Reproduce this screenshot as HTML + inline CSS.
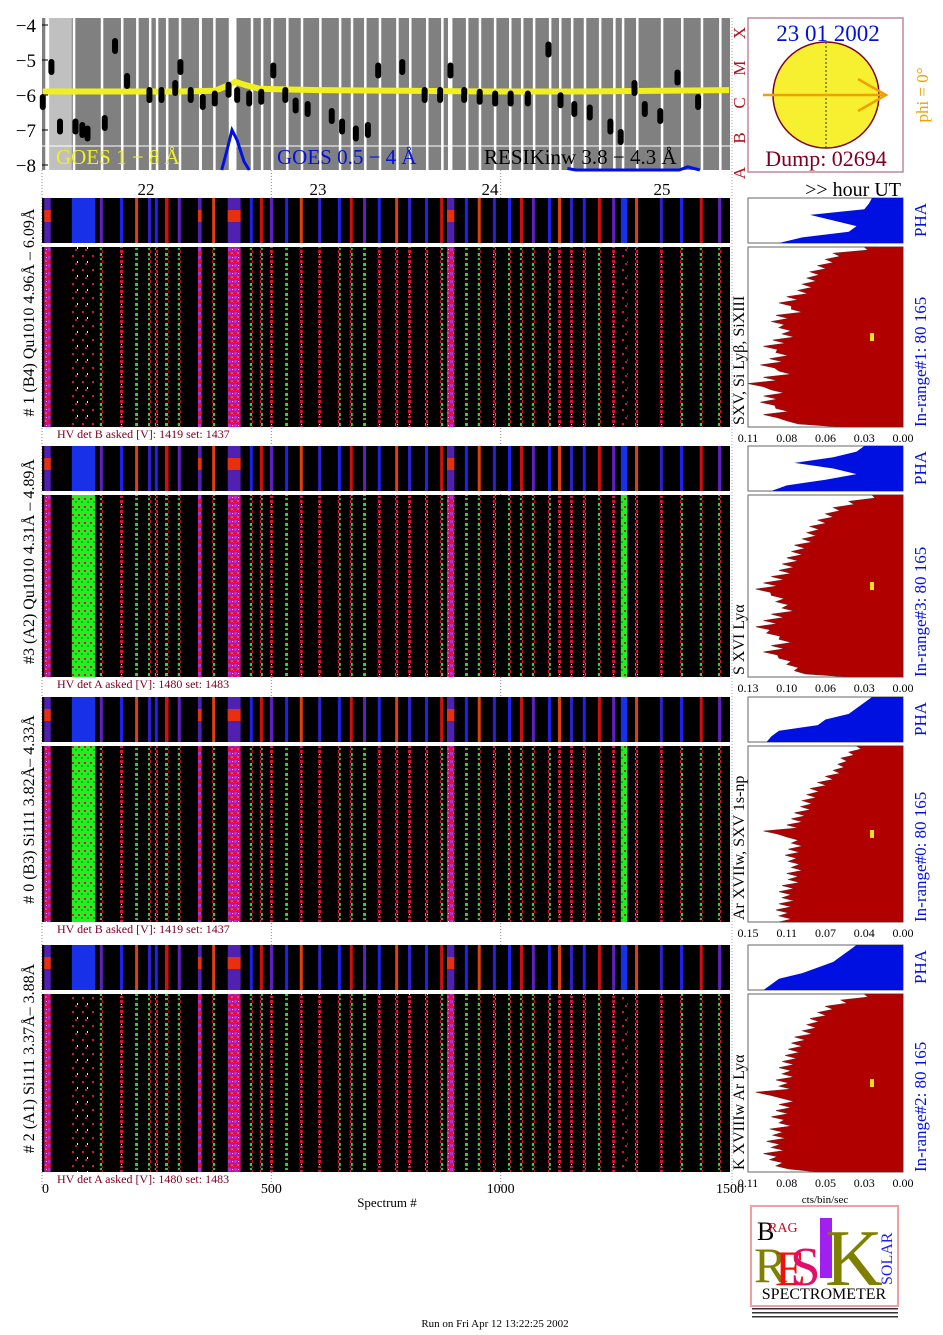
<!DOCTYPE html>
<html><head><meta charset="utf-8">
<style>
html,body{margin:0;padding:0;background:#fff;}
body{width:943px;height:1330px;overflow:hidden;font-family:"Liberation Serif",serif;}
svg text{font-family:"Liberation Serif",serif;}
</style></head>
<body>
<svg id="chart" width="943" height="1330" viewBox="0 0 943 1330" xmlns="http://www.w3.org/2000/svg">
<defs>
<pattern id="spk" width="6" height="10" patternUnits="userSpaceOnUse">
<rect width="6" height="10" fill="#1a0a0a"/>
<rect x="0" y="0" width="3" height="3" fill="#e01030"/>
<rect x="3" y="3" width="3" height="3" fill="#20e020"/>
<rect x="0" y="6" width="3" height="2" fill="#d02050"/>
<rect x="3" y="8" width="3" height="2" fill="#30c030"/>
<rect x="1" y="4" width="1" height="1" fill="#fff"/>
</pattern>
<pattern id="spkf" width="6" height="8" patternUnits="userSpaceOnUse">
<rect width="6" height="8" fill="#e01040"/>
<rect x="0" y="0" width="3" height="3" fill="#b030e0"/>
<rect x="3" y="4" width="2" height="2" fill="#c040f0"/>
<rect x="4" y="1" width="1" height="1" fill="#fff"/>
</pattern>
<pattern id="spkg" width="6" height="8" patternUnits="userSpaceOnUse">
<rect width="6" height="8" fill="#20f020"/>
<rect x="0" y="2" width="2" height="2" fill="#e01030"/>
<rect x="3" y="5" width="2" height="2" fill="#10b010"/>
</pattern>
<pattern id="spkd" width="10" height="14" patternUnits="userSpaceOnUse">
<rect width="10" height="14" fill="#000"/>
<rect x="2" y="3" width="2" height="2" fill="#e01030"/>
<rect x="7" y="9" width="1" height="2" fill="#fff"/>
<rect x="5" y="11" width="2" height="2" fill="#c01040"/>
</pattern>
</defs>
<g id="topPanel"></g>
<g id="panels"></g>
<g id="hists"></g>
<g id="misc"></g>
</svg>
<script>
const NS="http://www.w3.org/2000/svg";
function mk(parent,tag,attrs,txt){const e=document.createElementNS(NS,tag);for(const k in attrs)e.setAttribute(k,attrs[k]);if(txt!==undefined)e.textContent=txt;parent.appendChild(e);return e;}

// ---------- data ----------
const goesLongHours=[21.40,21.8,22.2,22.40,22.48,22.52,22.58,22.66,22.8,23.0,23.5,24.0,24.5,25.0,25.39];
const goesLongVals=[-5.9,-5.9,-5.9,-5.88,-5.72,-5.62,-5.72,-5.82,-5.84,-5.86,-5.88,-5.9,-5.9,-5.88,-5.86];
const goesShortHours=[22.44,22.47,22.50,22.53,22.57,22.60];
const goesShortVals=[-8.4,-7.6,-7.0,-7.3,-7.9,-8.4];
const goesShort2Hours=[24.45,24.50,25.10,25.15,25.22];
const goesShort2Vals=[-8.1,-8.2,-8.2,-8.05,-8.2];
const resikHours=[21.40,21.45,21.50,21.59,21.63,21.66,21.76,21.82,21.89,22.02,22.09,22.17,22.20,22.26,22.33,22.40,22.48,22.53,22.60,22.67,22.74,22.81,22.87,22.94,23.08,23.14,23.22,23.29,23.35,23.49,23.62,23.71,23.77,23.85,23.94,24.03,24.12,24.22,24.34,24.41,24.49,24.58,24.70,24.76,24.84,24.90,24.99,25.09,25.21];
const resikVals=[-6.2,-5.2,-6.9,-6.9,-7.0,-7.1,-6.8,-4.6,-5.6,-6.0,-6.0,-5.8,-5.2,-6.0,-6.2,-6.1,-5.85,-6.0,-6.1,-6.05,-5.3,-6.0,-6.3,-6.4,-6.6,-6.9,-7.1,-7.0,-5.3,-5.2,-6.0,-6.0,-5.3,-6.0,-6.05,-6.1,-6.1,-6.1,-4.7,-6.15,-6.4,-6.5,-6.9,-7.2,-5.8,-6.4,-6.6,-5.5,-6.2];
const yTicks=[-4,-5,-6,-7,-8];
const hourTicks=[22,23,24,25];
const specTicks=[0,500,1000,1500];
const stripeStart=[5,65,126,170,203,231,246,268,296,340,371,405,453,475,497,530,562,602,645,671,700,732,770,798,835,868,883,922,950,983,1016,1042,1068,1103,1125,1151,1179,1212,1243,1262,1293,1347,1391,1434,1474];
const stripeWidth=[14,51,6,6,6,6,6,8,6,8,6,28,6,6,6,6,6,6,6,6,6,6,6,6,6,6,16,6,6,6,6,6,6,6,6,6,6,6,6,14,6,6,6,6,6];
const stripeKind=["f","g","s","s","s","s","s","s","s","f","s","f","s","s","s","s","s","s","s","s","s","s","s","s","s","s","f","s","s","s","s","s","s","s","s","s","s","s","s","g","s","s","s","s","s"];
const histP1=[0.25,0.45,0.5,0.55,0.6,0.62,0.65,0.68,0.75,0.8,0.72,0.82,0.85,0.8,0.78,0.84,0.9,0.82,0.86,0.92,0.8,0.9,1.0,0.85,0.9,0.92,0.82,0.9,0.75,0.4];
const histP2=[0.2,0.35,0.45,0.5,0.55,0.6,0.62,0.65,0.7,0.72,0.75,0.78,0.8,0.85,0.9,0.95,0.85,0.82,0.78,0.85,0.9,0.95,0.88,0.8,0.85,0.9,0.8,0.75,0.7,0.35];
const histP3=[0.3,0.35,0.4,0.42,0.45,0.5,0.55,0.6,0.62,0.65,0.66,0.7,0.72,0.75,0.9,0.75,0.72,0.74,0.76,0.74,0.72,0.75,0.74,0.78,0.8,0.78,0.8,0.82,0.8,0.8];
const histP4=[0.25,0.4,0.5,0.55,0.6,0.62,0.65,0.7,0.72,0.74,0.76,0.78,0.8,0.78,0.82,0.8,0.95,0.78,0.8,0.82,0.85,0.8,0.86,0.84,0.88,0.85,0.9,0.86,0.82,0.55];
const phaP1=[0.2,0.22,0.25,0.6,0.45,0.3,0.35,0.65,0.8];
const phaP2=[0.25,0.3,0.45,0.7,0.45,0.3,0.5,0.75,0.85];
const phaP3=[0.2,0.25,0.3,0.35,0.5,0.55,0.8,0.85,0.88];
const phaP4=[0.3,0.35,0.4,0.45,0.55,0.65,0.8,0.85,0.9];
const histTicks=[["0.11","0.08","0.06","0.03","0.00"],["0.13","0.10","0.06","0.03","0.00"],["0.15","0.11","0.07","0.04","0.00"],["0.11","0.08","0.05","0.03","0.00"]];

const X0=42,X1=730;
const xs=s=>X0+s/1500*(X1-X0);
const xh=h=>146+(h-22)*172;
const yv=v=>25+(-4-v)*35;

const topG=document.getElementById('topPanel');
mk(topG,'rect',{x:X0,y:18,width:X1-X0,height:152,fill:'#808080',});
mk(topG,'rect',{x:xs(15),y:18,width:xs(65)-xs(15),height:152,fill:'#c0c0c0',});
stripeStart.forEach((s,i)=>{
  const w=stripeKind[i]==='f'?Math.max(3,(xs(s+stripeWidth[i])-xs(s))*0.6):2.5;
  const r=mk(topG,'rect',{x:xs(s)+1,y:18,width:w,height:152,fill:'#fff'});
  
  
});
mk(topG,'line',{x1:X0,x2:X1,y1:146,y2:146,stroke:'#fff','stroke-width':1,});
yTicks.forEach(v=>{
  const t=mk(topG,'text',{x:36,y:yv(v)+7,'text-anchor':'end','font-size':19},(v<0?'\u2212':'')+Math.abs(v));
  
  
  mk(topG,'line',{x1:X0,x2:X0+6,y1:yv(v),y2:yv(v),stroke:'#000'});
});
function pts(hs,vs){return hs.map((h,i)=>xh(h).toFixed(1)+','+Math.min(yv(vs[i]),170).toFixed(1)).join(' ');}
const yl=mk(topG,'polyline',{points:pts(goesLongHours,goesLongVals),fill:'none',stroke:'#f0f020','stroke-width':6});


const bl=mk(topG,'polyline',{points:pts(goesShortHours,goesShortVals),fill:'none',stroke:'#0010e0','stroke-width':3});


const bl2=mk(topG,'polyline',{points:pts(goesShort2Hours,goesShort2Vals),fill:'none',stroke:'#0010e0','stroke-width':3});


resikHours.forEach((h,i)=>{
  const e=mk(topG,'rect',{x:xh(h)-3,y:yv(resikVals[i])-8,width:6,height:16,rx:3,fill:'#000'});
  
  
});
mk(topG,'text',{x:56,y:164,'font-size':21,fill:'#f0f020',},'GOES 1 \u2212 8 \u00c5');
mk(topG,'text',{x:277,y:164,'font-size':21,fill:'#0010e0',},'GOES 0.5 \u2212 4 \u00c5');
mk(topG,'text',{x:484,y:164,'font-size':21,fill:'#000',},'RESIKinw 3.8 \u2212 4.3 \u00c5');
['A','B','C','M','X'].forEach((c,i)=>{
  const t=mk(topG,'text',{transform:`translate(745,${yv(-8+i)+8}) rotate(-90)`,'font-size':17,fill:'#b01020','text-anchor':'middle'},c);
  
  
});
hourTicks.forEach(h=>{
  const t=mk(topG,'text',{x:xh(h),y:195,'font-size':17,'text-anchor':'middle'},String(h));
  
  
});
mk(topG,'text',{x:901,y:196,'font-size':20,'text-anchor':'end',},'>> hour UT');
[xs(500),xs(1000)].forEach(x=>mk(topG,'line',{x1:x,x2:x,y1:170,y2:1190,stroke:'#888','stroke-dasharray':'1,2'}));
mk(topG,'line',{x1:X0,x2:X0,y1:170,y2:1190,stroke:'#888','stroke-dasharray':'1,2'});
mk(topG,'line',{x1:732,x2:732,y1:18,y2:1190,stroke:'#aaa','stroke-dasharray':'1,2'});

const misc=document.getElementById('misc');
mk(misc,'rect',{x:748,y:18,width:155,height:154,fill:'#fff',stroke:'#c08898','stroke-width':1.5,});
mk(misc,'circle',{cx:826,cy:95,r:53,fill:'#f6f030',stroke:'#800020','stroke-width':1.5,});
mk(misc,'line',{x1:826,x2:826,y1:42,y2:148,stroke:'#333','stroke-dasharray':'2,2'});
mk(misc,'line',{x1:763,x2:886,y1:95,y2:95,stroke:'#f0a000','stroke-width':2.5,});
mk(misc,'polyline',{points:'858,79 886,95 858,111',fill:'none',stroke:'#f0a000','stroke-width':2.5});
mk(misc,'text',{x:828,y:41,'font-size':23,fill:'#0010e0','text-anchor':'middle',},'23 01 2002');
mk(misc,'text',{x:826,y:166,'font-size':22,fill:'#800020','text-anchor':'middle',},'Dump: 02694');
mk(misc,'text',{transform:'translate(928,95) rotate(-90)','font-size':17,fill:'#f0a000','text-anchor':'middle',},'phi =  0\u00b0');

const panelsG=document.getElementById('panels');
const histsG=document.getElementById('hists');
const panelDefs=[
 {pt:198,mt:247,mb:427,left:'# 1 (B4) Qu1010 4.96\u00c5 \u2013 6.09\u00c5',mid:'SXV, Si Ly\u03b2, SiXIII',hv:'HV det B asked [V]:  1419 set:  1437',rng:'In-range#1:  80 165',h:histP1,p:phaP1},
 {pt:446,mt:495,mb:677,left:'#3 (A2) Qu1010  4.31\u00c5 \u2013 4.89\u00c5',mid:'S XVI Ly\u03b1',hv:'HV det A asked [V]:  1480 set:  1483',rng:'In-range#3:  80 165',h:histP2,p:phaP2},
 {pt:697,mt:746,mb:922,left:'# 0 (B3) Si111  3.82\u00c5\u2013 4.33\u00c5',mid:'Ar XVIIw,  SXV  1s-np',hv:'HV det B asked [V]:  1419 set:  1437',rng:'In-range#0:  80 165',h:histP3,p:phaP3},
 {pt:945,mt:994,mb:1172,left:'# 2 (A1) Si111  3.37\u00c5\u2013 3.88\u00c5',mid:'K XVIIIw  Ar Ly\u03b1',hv:'HV det A asked [V]:  1480 set:  1483',rng:'In-range#2:  80 165',h:histP4,p:phaP4}
];
const phaCols=['#2020f0','#d01010','#6020c0','#2020f0','#e04010','#3020d0'];
panelDefs.forEach((P,pi)=>{
  const g=mk(panelsG,'g',{});
  
  
  mk(g,'rect',{x:X0,y:P.pt,width:X1-X0,height:45,fill:'#000'});
  mk(g,'rect',{x:X0,y:P.pt+45,width:X1-X0,height:3,fill:'#fff'});
  mk(g,'rect',{x:X0,y:P.mt,width:X1-X0,height:P.mb-P.mt,fill:'#000'});
  stripeStart.forEach((s,i)=>{
    const x=xs(s), w=Math.max(3,xs(s+stripeWidth[i])-xs(s));
    const k=stripeKind[i];
    const pc=k==='g'?'#1830e8':(k==='f'?'#5020b0':phaCols[i%phaCols.length]);
    const a=mk(g,'rect',{x:x,y:P.pt,width:w,height:45,fill:pc});
    
    
    if(k==='f'){mk(g,'rect',{x:x,y:P.pt+12,width:w,height:12,fill:'#e83010'});}
    let fill='url(#spk)';
    if(k==='f')fill='url(#spkf)';
    if(k==='g')fill=(pi===2||pi===1)?'url(#spkg)':'url(#spkd)';
    const b=mk(g,'rect',{x:x,y:P.mt,width:w,height:P.mb-P.mt,fill:fill});
    
    
  });
  mk(g,'text',{x:57,y:P.mb+11,'font-size':12,fill:'#800020',},P.hv);
  mk(g,'text',{transform:`translate(34,${(P.pt+P.mb)/2}) rotate(-90)`,'font-size':16,'text-anchor':'middle',},P.left);
  mk(g,'text',{transform:`translate(744,${P.mb-2}) rotate(-90)`,'font-size':16,'text-anchor':'start',},P.mid);
  mk(g,'text',{transform:`translate(926,${P.pt+22}) rotate(-90)`,'font-size':17,fill:'#0010e0','text-anchor':'middle',},'PHA');
  mk(g,'text',{transform:`translate(926,${P.mb}) rotate(-90)`,'font-size':17,fill:'#0010e0','text-anchor':'start',},P.rng);
  const hg=mk(histsG,'g',{});
  
  
  const HX0=748,HX1=903;
  const hx=f=>HX1-f*(HX1-HX0);
  mk(hg,'rect',{x:HX0,y:P.pt,width:HX1-HX0,height:45,fill:'#fff',stroke:'#666'});
  let pp=[HX1+','+P.pt];
  P.p.forEach((f,i)=>{pp.push(hx(f).toFixed(1)+','+(P.pt+i*45/(P.p.length-1)).toFixed(1));});
  pp.push(HX1+','+(P.pt+45));
  const ph=mk(hg,'polygon',{points:pp.join(' '),fill:'#0010e0'});
  
  
  mk(hg,'rect',{x:HX0,y:P.mt,width:HX1-HX0,height:P.mb-P.mt,fill:'#fff',stroke:'#666'});
  let hp=[HX1+','+P.mt];
  const H=P.mb-P.mt;
  P.h.forEach((f,i)=>{
    const y=P.mt+i*H/(P.h.length-1);
    hp.push(hx(f).toFixed(1)+','+y.toFixed(1));
    if(i<P.h.length-1) hp.push(hx(f*0.9).toFixed(1)+','+(y+H/(P.h.length-1)/2).toFixed(1));
  });
  hp.push(HX1+','+P.mb);
  const rh=mk(hg,'polygon',{points:hp.join(' '),fill:'#b00000',stroke:'#702020','stroke-width':0.6});
  
  
  mk(hg,'rect',{x:870,y:(P.mt+P.mb)/2-4,width:4,height:8,fill:'#f0e020'});
  histTicks[pi].forEach((t,j)=>{
    const e=mk(hg,'text',{x:HX0+j*(HX1-HX0)/4,y:P.mb+15,'font-size':12,'text-anchor':'middle'},t);
    
    
  });
});
specTicks.forEach(s=>{
  const t=mk(misc,'text',{x:xs(s),y:1193,'font-size':14,'text-anchor':s===0?'start':'middle'},String(s));
  
  
});
mk(misc,'text',{x:387,y:1207,'font-size':13,'text-anchor':'middle',},'Spectrum #');
mk(misc,'text',{x:825,y:1203,'font-size':11,'text-anchor':'middle',},'cts/bin/sec');
const lg=mk(misc,'g',{});


mk(lg,'rect',{x:751,y:1206,width:147,height:100,fill:'#fff',stroke:'#f0a0a0','stroke-width':2});
mk(lg,'text',{x:757,y:1240,'font-size':26,fill:'#000'},'B');
mk(lg,'text',{x:768,y:1232,'font-size':14,fill:'#c01020'},'RAG');
mk(lg,'text',{x:754,y:1282,'font-size':50,fill:'#808000'},'R');
mk(lg,'text',{x:775,y:1285,'font-size':50,fill:'#f01010'},'E');
mk(lg,'text',{x:790,y:1285,'font-size':55,fill:'#e0106a'},'S');
mk(lg,'rect',{x:820,y:1218,width:12,height:60,fill:'#a020f0'});
mk(lg,'text',{x:825,y:1285,'font-size':80,fill:'#808000'},'K');
mk(lg,'text',{transform:'translate(892,1285) rotate(-90)','font-size':16,fill:'#2020f0'},'SOLAR');
mk(lg,'text',{x:824,y:1299,'font-size':16,'text-anchor':'middle',fill:'#000'},'SPECTROMETER');
mk(lg,'rect',{x:752,y:1308,width:146,height:1.5,fill:'#333'});
mk(lg,'rect',{x:752,y:1312,width:146,height:1.5,fill:'#333'});
mk(lg,'rect',{x:752,y:1316,width:146,height:1.5,fill:'#333'});
mk(misc,'text',{x:495,y:1327,'font-size':11,'text-anchor':'middle',},'Run on Fri Apr 12 13:22:25 2002');
</script>
</body></html>
